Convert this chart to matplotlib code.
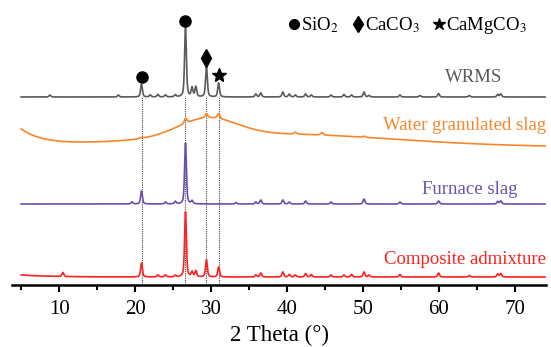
import numpy as np
import matplotlib
matplotlib.use("Agg")
import matplotlib.pyplot as plt
from matplotlib.lines import Line2D

plt.rcParams['font.family'] = ['Liberation Serif', 'DejaVu Sans']
plt.rcParams['mathtext.fontset'] = 'stix'

# reflection positions (2theta, deg) and peak heights (a.u.) for each sample
wrms_pos = [8.8, 17.8, 20.85, 22.0, 23.0, 24.0, 25.3, 26.64, 27.5, 28.0, 29.4, 31.0,
            35.9, 36.55, 39.45, 40.3, 41.1, 42.45, 43.2, 45.8, 47.5, 48.5, 50.14, 50.8,
            54.87, 57.5, 59.96, 64.0, 67.74, 68.14]
wrms_int = [2, 2, 13, 2, 2.5, 2, 2, 69, 9, 10, 30, 14,
            3, 4, 5, 3, 2, 3, 2, 2, 2.5, 2, 5, 1.5,
            2, 1.5, 3.5, 1.5, 2.5, 3]

wgs_pos = [20.85, 26.64, 29.4, 31.0, 41.1, 44.6, 50.14]
wgs_int = [1, 5, 4, 5, 2, 2.5, 1]
# amorphous background of the slag: low-angle scatter, glassy hump, broad halo
wgs_low = (16.5, 3.0)          # height, decay length
wgs_hump = (29.5, 3.8, 18)     # centre, width, height
wgs_halo = (38.0, 16.0, 13)    # centre, width, height

fs_pos = [19.6, 20.85, 24.0, 25.3, 26.64, 27.5, 33.3, 35.9, 36.55, 39.45, 40.3,
          42.45, 45.8, 50.14, 54.87, 59.96, 67.74, 68.14]
fs_int = [2, 13, 2, 2.5, 61, 3, 1.5, 2, 4, 4, 2,
          3, 2, 5, 2, 3, 2.5, 3]

ca_pos = [10.5, 20.85, 23.0, 24.0, 25.3, 26.64, 27.5, 28.0, 29.4, 31.0, 35.9, 36.55,
          39.45, 40.3, 41.1, 42.45, 43.2, 45.8, 47.5, 48.5, 50.14, 50.8, 54.87,
          59.96, 64.0, 67.74, 68.14]
ca_int = [4, 14, 2, 2, 1.5, 65, 5, 6, 17, 10, 2, 4,
          5, 2.5, 2, 3.5, 2.5, 2, 2, 2.5, 5, 2, 2.5,
          4, 1.5, 3, 3.5]

phase_lines = [20.85, 26.64, 29.4, 31.0]

two_theta = np.arange(5.0, 74.0, 0.02)


def pseudo_voigt(x, pos, heights, fwhm=0.28, eta=0.5):
    y = np.zeros_like(x)
    hw = fwhm / 2
    for p, h in zip(pos, heights):
        d = x - p
        lor = 1.0 / (1.0 + (d / hw) ** 2)
        gau = np.exp(-np.log(2) * (d / hw) ** 2)
        y += h * (eta * lor + (1 - eta) * gau)
    return y


def gauss(x, c, w, h):
    return h * np.exp(-((x - c) ** 2) / (2 * w ** 2))


wrms = pseudo_voigt(two_theta, wrms_pos, wrms_int)
wgs = (pseudo_voigt(two_theta, wgs_pos, wgs_int, fwhm=0.4)
       + wgs_low[0] * np.exp(-(two_theta - 5.0) / wgs_low[1])
       + gauss(two_theta, *wgs_hump) + gauss(two_theta, *wgs_halo))
fs = pseudo_voigt(two_theta, fs_pos, fs_int)
ca = pseudo_voigt(two_theta, ca_pos, ca_int) + 2.0 * np.exp(-(two_theta - 5.0) / 4.0)

series = [
    ("WRMS", wrms, 188, "#5a5a5a"),
    ("Water granulated slag", wgs, 138, "#f7862a"),
    ("Furnace slag", fs, 81, "#6a4fae"),
    ("Composite admixture", ca, 8, "#ff2020"),
]

fig = plt.figure(figsize=(5.51, 3.47), dpi=100)
ax = fig.add_axes([12 / 551, 62 / 347, 534 / 551, 285 / 347])

# dotted guides through the main reflections
ax.vlines(phase_lines, 0, 188, colors="#444444", linestyles=(0, (1, 1)), lw=0.8, zorder=1)

for name, y, off, col in series:
    ax.plot(two_theta, y + off, color=col, lw=1.2, zorder=2)

# phase symbols above the WRMS peaks
wrms_top = lambda p: 188 + wrms_int[wrms_pos.index(p)]
ax.plot([20.85, 26.64], [wrms_top(20.85) + 7, wrms_top(26.64) + 7], "o", color="black", ms=8)
ax.plot([29.4], [wrms_top(29.4) + 9], "d", color="black", ms=9)
ax.plot([31.0], [wrms_top(31.0) + 8], "*", color="black", ms=10)

# sample names
ax.text(64.6, 207, "WRMS", color="#5a5a5a", fontsize=13.5, ha="center", va="center")
ax.text(74.1, 160, "Water granulated slag", color="#f7862a", fontsize=13.5, ha="right", va="center")
ax.text(64.1, 95, "Furnace slag", color="#6a4fae", fontsize=13.5, ha="center", va="center")
ax.text(74.1, 25, "Composite admixture", color="#ff2020", fontsize=13.5, ha="right", va="center")

handles = [
    Line2D([], [], ls="none", marker="o", color="black", ms=7),
    Line2D([], [], ls="none", marker="d", color="black", ms=8),
    Line2D([], [], ls="none", marker="*", color="black", ms=9),
]
labels = ["SiO$_2$", "CaCO$_3$", "CaMgCO$_3$"]
fig.legend(handles, labels, ncol=3, frameon=False, fontsize=13.5,
           handlelength=0.5, handletextpad=0.1, columnspacing=0.8,
           loc="center", bbox_to_anchor=(408 / 551, 1 - 26 / 347))

ax.set_xlim(3.8, 74.1)
ax.set_ylim(0, 285)
for s in ("left", "right", "top"):
    ax.spines[s].set_visible(False)
ax.spines["bottom"].set_linewidth(1.8)
ax.set_yticks([])
ax.set_xticks([10, 20, 30, 40, 50, 60, 70])
ax.set_xticks(np.arange(5, 75, 10), minor=True)
ax.tick_params(axis="x", which="major", direction="out", length=5, width=1.5, labelsize=15, pad=6)
ax.tick_params(axis="x", which="minor", direction="out", length=3.5, width=1.5)
ax.set_xlabel("2 Theta (°)", fontsize=16.5, labelpad=4)

fig.savefig("out.png", dpi=100)
